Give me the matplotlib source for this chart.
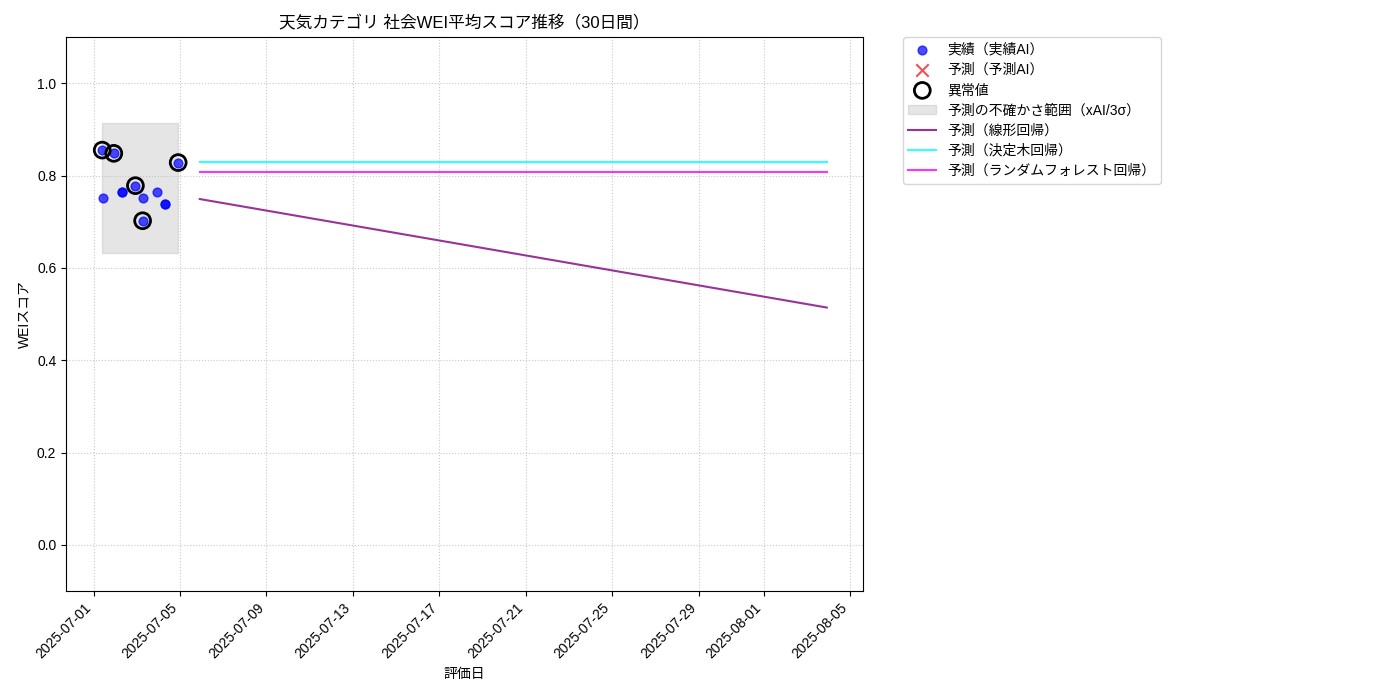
import matplotlib
matplotlib.use("Agg")
import matplotlib.pyplot as plt
import matplotlib.dates as mdates
import pandas as pd
import numpy as np

plt.rcParams['font.family'] = ['Liberation Sans', 'Noto Sans CJK JP', 'DejaVu Sans']

# Actual data
actual_dates = ["2025-07-01 09:40", "2025-07-01 22:30", "2025-07-01 10:10",
                "2025-07-02 07:10", "2025-07-02 07:10", "2025-07-02 22:30",
                "2025-07-03 06:30", "2025-07-03 06:30", "2025-07-03 23:00",
                "2025-07-04 07:00", "2025-07-04 07:00", "2025-07-04 22:00"]
actual_values = [0.855, 0.848, 0.752,
                 0.764, 0.764, 0.778,
                 0.752, 0.702, 0.765,
                 0.738, 0.738, 0.828]
anomaly_dates = ["2025-07-01 09:40", "2025-07-01 22:30", "2025-07-02 22:30",
                 "2025-07-03 06:30", "2025-07-04 22:00"]
anomaly_values = [0.855, 0.848, 0.778, 0.702, 0.828]

band_low = 0.633
band_high = 0.913

pred_start = "2025-07-05 22:00"
pred_days = 30
linear_start, linear_end = 0.749, 0.514
tree_value = 0.829
forest_value = 0.807

title = "天気カテゴリ 社会WEI平均スコア推移（30日間）"
xlabel = "評価日"
ylabel = "WEIスコア"

act_d = pd.to_datetime(actual_dates)
ano_d = pd.to_datetime(anomaly_dates)
pred_d = pd.date_range(pred_start, periods=pred_days, freq="D")
linear_vals = np.linspace(linear_start, linear_end, pred_days)
tree_vals = np.full(pred_days, tree_value)
forest_vals = np.full(pred_days, forest_value)

fig = plt.figure(figsize=(14, 7), dpi=100)
ax = fig.add_axes([66/1400, 1-591/700, (863-66)/1400, (591-37)/700])

ax.scatter(act_d, actual_values, color="blue", alpha=0.7, s=40, label="実績（実績AI）", zorder=3)
ax.scatter([], [], color="red", marker="x", alpha=0.7, s=80, label="予測（予測AI）")
ax.scatter(ano_d, anomaly_values, facecolors="none", edgecolors="black", s=130, linewidths=2,
           label="異常値", zorder=4)
ax.fill_between([act_d.min(), act_d.max()], band_low, band_high, color="gray", alpha=0.2,
                label="予測の不確かさ範囲（xAI/3σ）", zorder=1)
ax.plot(pred_d, linear_vals, color="purple", alpha=0.8, label="予測（線形回帰）")
ax.plot(pred_d, tree_vals, color="cyan", alpha=0.8, label="予測（決定木回帰）")
ax.plot(pred_d, forest_vals, color="magenta", alpha=0.8, label="予測（ランダムフォレスト回帰）")

ax.set_ylim(-0.1, 1.1)
ax.set_title(title, fontsize=12)
ax.set_xlabel(xlabel)
ax.set_ylabel(ylabel)
ax.grid(True, linestyle=":", color="#bbbbbb", alpha=0.8)
ax.xaxis.set_major_locator(mdates.DayLocator(bymonthday=[1, 5, 9, 13, 17, 21, 25, 29]))
ax.xaxis.set_major_formatter(mdates.DateFormatter("%Y-%m-%d"))
plt.setp(ax.get_xticklabels(), rotation=45, ha="right")
ax.legend(loc="upper left", bbox_to_anchor=(1.05, 1), borderaxespad=0, labelspacing=0.45)

fig.savefig("out.png")
